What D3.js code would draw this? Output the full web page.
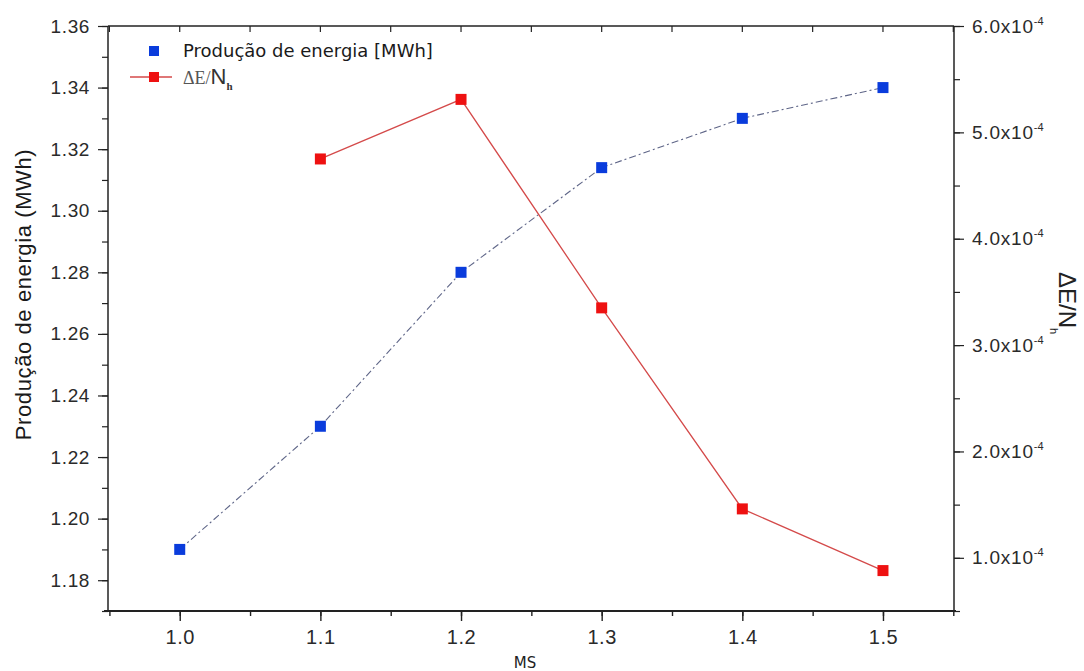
<!DOCTYPE html>
<html>
<head>
<meta charset="utf-8">
<script src="https://cdn.jsdelivr.net/npm/d3@7"></script>
<style>
  body { margin: 0; background: #fff; }
  svg { display: block; }
  .tick text { font-family: "Liberation Sans", Arial, sans-serif; fill: #2a2a2a; }
</style>
</head>
<body>
<div id="chart"></div>
<script>
// data
const msValues = [1.0, 1.1, 1.2, 1.3, 1.4, 1.5];
const energyValues = [1.19, 1.23, 1.28, 1.314, 1.33, 1.34]; // MWh, left axis
const deltaMs = [1.1, 1.2, 1.3, 1.4, 1.5];
const deltaValues = [4.75e-4, 5.31e-4, 3.35e-4, 1.46e-4, 0.88e-4]; // right axis
const leftTicks = [1.18, 1.20, 1.22, 1.24, 1.26, 1.28, 1.30, 1.32, 1.34, 1.36];
const rightTicks = [1e-4, 2e-4, 3e-4, 4e-4, 5e-4, 6e-4];
const xTicks = [1.0, 1.1, 1.2, 1.3, 1.4, 1.5];

let width = 1084,
    height = 671,
    margin = {top: 26, right: 130, bottom: 60, left: 108},
    blue = "#0a3cdc",
    red = "#ee1111",
    axisColor = "#222";

let svg = d3.select("#chart").append("svg")
    .attr("width", width)
    .attr("height", height);

let x = d3.scaleLinear().domain([0.949, 1.5505]).range([margin.left, width - margin.right]);
let yL = d3.scaleLinear().domain([1.17, 1.36]).range([height - margin.bottom, margin.top]);
let yR = d3.scaleLinear().domain([0.5e-4, 6e-4]).range([height - margin.bottom, margin.top]);

let bottomY = height - margin.bottom,
    rightX = width - margin.right;

// minor tick positions (halfway between majors)
let xMinor = d3.range(0.95, 1.551, 0.05),
    yLMinor = d3.range(1.17, 1.361, 0.01),
    yRMinor = d3.range(0.5e-4, 6.01e-4, 0.5e-4);

// top frame line
svg.append("line")
    .attr("x1", margin.left).attr("x2", rightX)
    .attr("y1", margin.top).attr("y2", margin.top)
    .attr("stroke", axisColor).attr("stroke-width", 1.3);

// top ticks pointing inward
svg.append("g")
    .selectAll("line")
    .data(xMinor)
    .join("line")
    .attr("x1", d => x(d)).attr("x2", d => x(d))
    .attr("y1", margin.top).attr("y2", margin.top + 6)
    .attr("stroke", axisColor).attr("stroke-width", 1.2);

// bottom axis
let gx = svg.append("g").attr("transform", `translate(0,${bottomY})`);
gx.call(d3.axisBottom(x).tickValues(xMinor).tickSize(5).tickFormat(""))
    .call(g => g.select(".domain").remove())
    .selectAll("line").attr("stroke", axisColor).attr("stroke-width", 1.4);
gx.append("g")
    .call(d3.axisBottom(x).tickValues(xTicks).tickSize(10).tickPadding(9).tickFormat(d3.format(".1f")))
    .call(g => g.select(".domain").remove())
    .call(g => g.selectAll("line").attr("stroke", axisColor).attr("stroke-width", 1.4))
    .call(g => g.selectAll("text").attr("font-size", 20).attr("letter-spacing", 0.6));
gx.append("line")
    .attr("x1", margin.left - 4).attr("x2", rightX + 2)
    .attr("stroke", axisColor).attr("stroke-width", 2);

// left axis
let gl = svg.append("g").attr("transform", `translate(${margin.left},0)`);
gl.call(d3.axisLeft(yL).tickValues(yLMinor).tickSize(6).tickFormat(""))
    .call(g => g.select(".domain").remove())
    .selectAll("line").attr("stroke", axisColor).attr("stroke-width", 1.2);
gl.append("g")
    .call(d3.axisLeft(yL).tickValues(leftTicks).tickSize(10).tickPadding(8).tickFormat(d3.format(".2f")))
    .call(g => g.select(".domain").remove())
    .call(g => g.selectAll("line").attr("stroke", axisColor).attr("stroke-width", 1.2))
    .call(g => g.selectAll("text").attr("font-size", 19).attr("letter-spacing", 0.6));
gl.append("line")
    .attr("y1", margin.top).attr("y2", bottomY)
    .attr("stroke", axisColor).attr("stroke-width", 1.5);

// right axis
let gr = svg.append("g").attr("transform", `translate(${rightX},0)`);
gr.call(d3.axisRight(yR).tickValues(yRMinor).tickSize(6).tickFormat(""))
    .call(g => g.select(".domain").remove())
    .selectAll("line").attr("stroke", axisColor).attr("stroke-width", 1.2);
let grMajor = gr.append("g")
    .call(d3.axisRight(yR).tickValues(rightTicks).tickSize(10).tickPadding(8).tickFormat(""))
    .call(g => g.select(".domain").remove())
    .call(g => g.selectAll("line").attr("stroke", axisColor).attr("stroke-width", 1.2));
grMajor.selectAll(".tick text")
    .attr("font-size", 19)
    .attr("letter-spacing", 0.8)
    .each(function(d) {
        let t = d3.select(this);
        t.append("tspan").text((d * 1e4).toFixed(1) + "x10");
        t.append("tspan").attr("dy", -8).attr("font-size", 11).attr("letter-spacing", 0).text("-4");
    });
gr.append("line")
    .attr("y1", margin.top).attr("y2", bottomY)
    .attr("stroke", axisColor).attr("stroke-width", 1.5);

// axis titles
svg.append("text")
    .attr("transform", `translate(31,${(margin.top + bottomY) / 2 - 24}) rotate(-90)`)
    .attr("text-anchor", "middle")
    .attr("font-family", "Liberation Sans, Arial, sans-serif")
    .attr("font-size", 22)
    .attr("letter-spacing", 0.6)
    .attr("fill", "#1a1a1a")
    .text("Produção de energia (MWh)");

svg.append("text")
    .attr("x", (margin.left + rightX) / 2 - 6)
    .attr("y", 668)
    .attr("text-anchor", "middle")
    .attr("font-family", "DejaVu Sans, sans-serif")
    .attr("font-size", 15)
    .attr("fill", "#222")
    .text("MS");

let rt = svg.append("text")
    .attr("transform", `translate(1059,272) rotate(90)`)
    .attr("font-family", "Liberation Sans, Arial, sans-serif")
    .attr("font-size", 24)
    .attr("fill", "#222");
rt.append("tspan").text("ΔE/N");
rt.append("tspan").attr("dy", 9).attr("font-size", 11).text("h");

// series lines
let energyLine = d3.line().x((d, i) => x(msValues[i])).y(d => yL(d));
svg.append("path")
    .datum(energyValues)
    .attr("d", energyLine)
    .attr("fill", "none")
    .attr("stroke", "#5f6688")
    .attr("stroke-width", 1.1)
    .attr("stroke-dasharray", "7,3,2,3");

let deltaLine = d3.line().x((d, i) => x(deltaMs[i])).y(d => yR(d));
svg.append("path")
    .datum(deltaValues)
    .attr("d", deltaLine)
    .attr("fill", "none")
    .attr("stroke", "#d44a4a")
    .attr("stroke-width", 1.3);

// markers
let ms = 11;
svg.append("g")
    .selectAll("rect")
    .data(energyValues)
    .join("rect")
    .attr("x", (d, i) => x(msValues[i]) - ms / 2)
    .attr("y", d => yL(d) - ms / 2)
    .attr("width", ms).attr("height", ms)
    .attr("fill", blue);

svg.append("g")
    .selectAll("rect")
    .data(deltaValues)
    .join("rect")
    .attr("x", (d, i) => x(deltaMs[i]) - ms / 2)
    .attr("y", d => yR(d) - ms / 2)
    .attr("width", ms).attr("height", ms)
    .attr("fill", red);

// legend
let legend = svg.append("g").attr("transform", "translate(154,0)");
legend.append("rect")
    .attr("x", -5).attr("y", 46).attr("width", 10).attr("height", 10)
    .attr("fill", blue);
legend.append("text")
    .attr("x", 29).attr("y", 57)
    .attr("font-family", "DejaVu Sans, sans-serif")
    .attr("font-size", 18)
    .attr("fill", "#1a1a1a")
    .text("Produção de energia [MWh]");

legend.append("line")
    .attr("x1", -24).attr("x2", 18).attr("y1", 77).attr("y2", 77)
    .attr("stroke", "#d44a4a").attr("stroke-width", 1.3);
legend.append("rect")
    .attr("x", -5).attr("y", 72).attr("width", 10).attr("height", 10)
    .attr("fill", red);
let lt = legend.append("text")
    .attr("x", 29).attr("y", 84)
    .attr("font-family", "Liberation Serif, serif")
    .attr("font-size", 18)
    .attr("fill", "#555");
lt.append("tspan").text("ΔE/");
lt.append("tspan").attr("font-family", "Liberation Sans, sans-serif").attr("font-size", 22).attr("fill", "#333").text("N");
lt.append("tspan").attr("dy", 6).attr("font-size", 11).attr("font-weight", "bold").attr("fill", "#333").text("h");
</script>
</body>
</html>
